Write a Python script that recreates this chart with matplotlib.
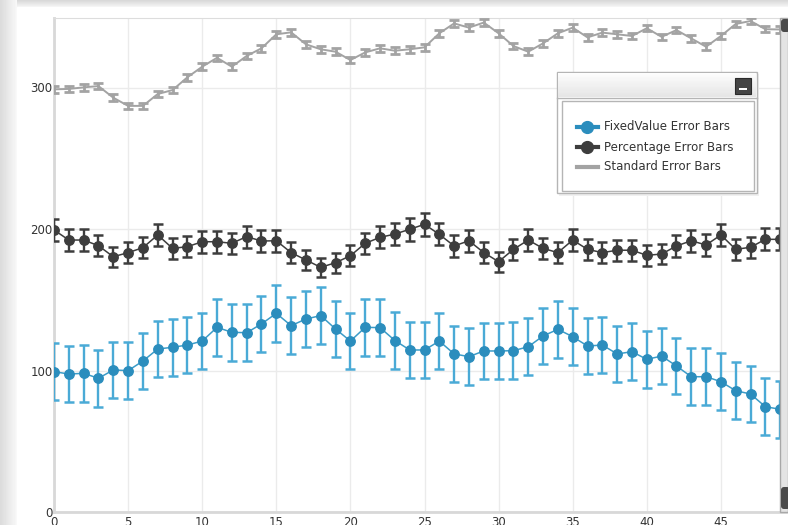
import matplotlib.pyplot as plt
from matplotlib.patches import Rectangle, FancyBboxPatch
from matplotlib.lines import Line2D
import numpy as np

x_values = list(range(50))

fixed_values = [99.2, 97.5, 98.0, 94.5, 100.4, 99.9, 106.7, 115.2, 116.4, 118.0,
                120.8, 130.5, 127.0, 126.7, 132.9, 140.4, 131.7, 136.4, 138.8, 129.3,
                120.8, 130.5, 130.3, 121.2, 114.5, 114.5, 120.8, 111.7, 109.8, 113.8,
                113.8, 114.0, 116.8, 124.4, 129.1, 123.9, 117.3, 118.0, 111.7, 113.3,
                107.9, 110.2, 103.2, 95.6, 95.6, 92.1, 85.7, 83.4, 74.4, 72.6]

percentage_values = [199.3, 192.2, 192.2, 188.2, 180.4, 183.3, 186.8, 195.8, 186.3, 187.5,
                     191.0, 191.0, 189.9, 194.6, 191.5, 191.7, 183.3, 178.1, 172.9, 176.2,
                     181.1, 189.9, 194.1, 196.4, 199.8, 203.3, 196.2, 188.0, 191.7, 183.3,
                     176.9, 185.6, 192.2, 186.3, 183.3, 192.2, 185.6, 183.3, 185.0, 185.0,
                     181.4, 182.3, 188.0, 191.7, 188.7, 195.8, 185.6, 187.1, 192.7, 192.7]

standard_values = [298.7, 299.0, 300.1, 301.0, 292.8, 287.0, 287.0, 295.4, 298.2, 307.2,
                   314.7, 321.0, 314.7, 322.3, 327.7, 337.6, 339.0, 330.5, 327.0, 325.3,
                   319.4, 324.8, 327.7, 326.0, 327.0, 328.4, 338.3, 345.3, 342.3, 345.9,
                   338.3, 329.3, 325.3, 331.2, 338.3, 342.3, 335.4, 338.8, 337.6, 336.4,
                   341.9, 335.8, 340.6, 334.7, 328.8, 336.4, 344.9, 347.0, 341.2, 341.0]

fixed_error = 20
percentage_error = 0.04
standard_error = 2.3

legend_labels = ["FixedValue Error Bars", "Percentage Error Bars", "Standard Error Bars"]

W, H = 788, 525
fig = plt.figure(figsize=(W / 100, H / 100), dpi=100)

# background frame with soft gray shadow on top and left
bg = fig.add_axes([0, 0, 1, 1])
grad_top = np.linspace(0.85, 0.97, 8).reshape(-1, 1)
bg.imshow(np.tile(grad_top, (1, 10)), cmap="gray", vmin=0, vmax=1,
          extent=[0, W, 8, 0], aspect="auto")
grad_left = np.linspace(0.86, 0.97, 17).reshape(1, -1)
bg.imshow(np.tile(grad_left, (10, 1)), cmap="gray", vmin=0, vmax=1,
          extent=[0, 17, H, 0], aspect="auto")
bg.add_patch(Rectangle((17, 7), W - 17, H - 7, color="white", zorder=2))
bg.set_xlim(0, W)
bg.set_ylim(H, 0)
bg.axis("off")

# main plot area
left, right, top, bottom = 54, 786, 18, 512
ax = fig.add_axes([left / W, 1 - bottom / H, (right - left) / W, (bottom - top) / H])
ax.set_xlim(0, (right - left) / 14.82)
ax.set_ylim(0, (bottom - top) / 1.415)

xs = np.array(x_values)
ax.errorbar(xs, standard_values, yerr=standard_error, color="#a3a3a3", lw=1.4,
            elinewidth=2, capsize=3.3, capthick=2, zorder=3)
ax.errorbar(xs, percentage_values, yerr=np.array(percentage_values) * percentage_error,
            color="#3d3d3d", lw=1.1, marker="o", ms=6.8, elinewidth=1.7,
            capsize=3.6, capthick=1.8, zorder=4)
ax.errorbar(xs, fixed_values, yerr=fixed_error, color="#3b9cc8", mfc="#2b8dbd",
            mec="#2b8dbd", lw=1.1, marker="o", ms=6.8, elinewidth=1.7, ecolor="#4aaad6",
            capsize=3.6, capthick=1.8, zorder=5)

ax.set_xticks(range(0, 50, 5))
ax.set_yticks([0, 100, 200, 300])
ax.grid(True, color="#ebebeb", lw=1)
ax.set_axisbelow(True)
ax.spines["right"].set_visible(False)
ax.spines["top"].set_color("#dddddd")
ax.spines["left"].set_color("#d8d8d8")
ax.spines["bottom"].set_color("#d8d8d8")
ax.spines["left"].set_linewidth(2)
ax.spines["bottom"].set_linewidth(2)
ax.tick_params(length=0, labelsize=8.5, colors="#333333")
ax.tick_params(axis="y", pad=1)
ax.tick_params(axis="x", pad=3)

# scrollbar on the right
ov = fig.add_axes([0, 0, 1, 1])
ov.add_patch(Rectangle((780, 18), 8, 494, facecolor="#e4e4e4", edgecolor="#a8a8a8", lw=1))
ov.add_patch(FancyBboxPatch((781, 19), 9, 13, boxstyle="round,pad=0,rounding_size=3",
                            facecolor="#4a4a4a", edgecolor="none"))
ov.add_patch(FancyBboxPatch((781, 487), 9, 22, boxstyle="round,pad=0,rounding_size=3",
                            facecolor="#4a4a4a", edgecolor="none"))

# legend panel
ov.add_patch(Rectangle((559, 74), 200, 122, facecolor="#f0f0f0", edgecolor="none"))
ov.add_patch(Rectangle((557, 72), 200, 121, facecolor="white", edgecolor="#b5b5b5", lw=1))
head = np.linspace(0.99, 0.9, 20).reshape(-1, 1)
ov.imshow(np.tile(head, (1, 10)), cmap="gray", vmin=0, vmax=1,
          extent=[558, 756, 97, 73], aspect="auto", zorder=3)
ov.plot([557, 757], [97.5, 97.5], color="#b5b5b5", lw=1, zorder=4)
ov.add_patch(Rectangle((735, 78), 16, 16, facecolor="#454545", edgecolor="#2a2a2a",
                       lw=0.8, zorder=5))
ov.add_patch(Rectangle((739, 88), 8, 2, facecolor="white", edgecolor="none", zorder=6))
ov.add_patch(Rectangle((562, 101), 192, 90, facecolor="none", edgecolor="#b5b5b5",
                       lw=1, zorder=4))

entry_y = [127, 147, 167]
entry_colors = ["#2b8dbd", "#3d3d3d", "#a3a3a3"]
for i in range(3):
    ov.add_line(Line2D([577, 598], [entry_y[i], entry_y[i]], color=entry_colors[i],
                       lw=3, zorder=6))
    if i < 2:
        ov.add_line(Line2D([587], [entry_y[i]], marker="o", ms=8.5, color=entry_colors[i],
                           zorder=7))
    ov.text(604, entry_y[i], legend_labels[i], fontsize=8.5, color="#333333",
            va="center", ha="left", zorder=7)
ov.set_xlim(0, W)
ov.set_ylim(H, 0)
ov.axis("off")

fig.savefig("out.png", dpi=100)
